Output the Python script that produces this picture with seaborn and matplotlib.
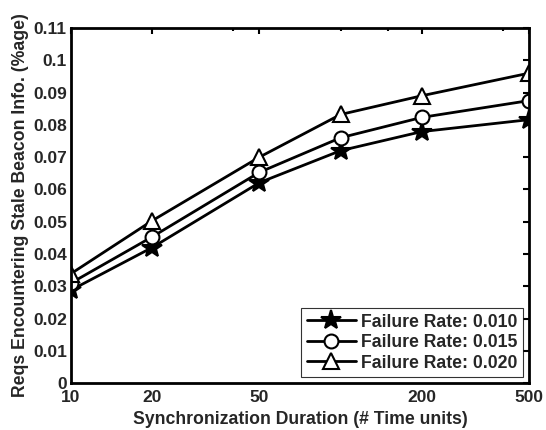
import matplotlib
matplotlib.use("Agg")
import matplotlib.pyplot as plt
import matplotlib.ticker as mticker
import pandas as pd
import seaborn as sns

durations = [10, 20, 50, 100, 200, 500]
rate_010 = [0.0288, 0.0420, 0.0621, 0.0720, 0.0779, 0.0816]
rate_015 = [0.0310, 0.0453, 0.0653, 0.0760, 0.0823, 0.0875]
rate_020 = [0.0339, 0.0503, 0.0700, 0.0832, 0.0890, 0.0960]
labels = ["Failure Rate: 0.010", "Failure Rate: 0.015", "Failure Rate: 0.020"]
x_ticks = [10, 20, 50, 200, 500]
x_minor = [40, 100, 150, 400]
y_ticks = [0, 0.01, 0.02, 0.03, 0.04, 0.05, 0.06, 0.07, 0.08, 0.09, 0.1, 0.11]

sns.set_theme(style="white")
plt.rcParams['font.family'] = ['Liberation Sans', 'DejaVu Sans']
plt.rcParams['font.weight'] = 'bold'

df = pd.DataFrame({
    'duration': durations * 3,
    'value': rate_010 + rate_015 + rate_020,
    'series': [labels[0]] * 6 + [labels[1]] * 6 + [labels[2]] * 6,
})

fig = plt.figure(figsize=(5.46, 4.3), dpi=100)
ax = fig.add_axes([0.130, 0.109, 0.839, 0.826])

markers = ['*', 'o', '^']
sizes = [15, 10, 11]
faces = ['black', 'white', 'white']
for lab, m, s, fc in zip(labels, markers, sizes, faces):
    sub = df[df['series'] == lab]
    sns.lineplot(data=sub, x='duration', y='value', ax=ax, color='black',
                 linewidth=2, marker=m, markersize=s, markerfacecolor=fc,
                 markeredgecolor='black', markeredgewidth=1.5, label=lab)

ax.set_xscale('log')
ax.set_xlim(10, 500)
ax.set_ylim(0, 0.11)
ax.xaxis.set_major_locator(mticker.FixedLocator(x_ticks))
ax.xaxis.set_minor_locator(mticker.FixedLocator(x_minor))
ax.xaxis.set_major_formatter(mticker.FixedFormatter([str(t) for t in x_ticks]))
ax.xaxis.set_minor_formatter(mticker.NullFormatter())
ax.set_yticks(y_ticks)
ax.set_yticklabels(['0', '0.01', '0.02', '0.03', '0.04', '0.05', '0.06',
                    '0.07', '0.08', '0.09', '0.1', '0.11'])

ax.tick_params(axis='both', which='both', direction='in', top=True, right=True,
               labelsize=12.5, width=1.5, color='black')
ax.tick_params(axis='x', which='major', length=4, pad=5)
ax.tick_params(axis='y', which='major', length=4, pad=3)
ax.tick_params(axis='x', which='minor', length=2.5)
for sp in ax.spines.values():
    sp.set_linewidth(2)
    sp.set_color('black')

ax.set_xlabel('Synchronization Duration (# Time units)', fontsize=12.7,
              fontweight='bold', labelpad=4)
ax.set_ylabel('Reqs Encountering Stale Beacon Info. (%age)', fontsize=12.7,
              fontweight='bold', labelpad=3)

leg = ax.legend(loc='lower right', fontsize=12.7, frameon=True, fancybox=False,
                handlelength=2.8, borderpad=0.3, labelspacing=0.2,
                handletextpad=0.3, borderaxespad=0.35)
leg.get_frame().set_edgecolor('black')
leg.get_frame().set_linewidth(0.8)

fig.savefig('out.png', dpi=100)
